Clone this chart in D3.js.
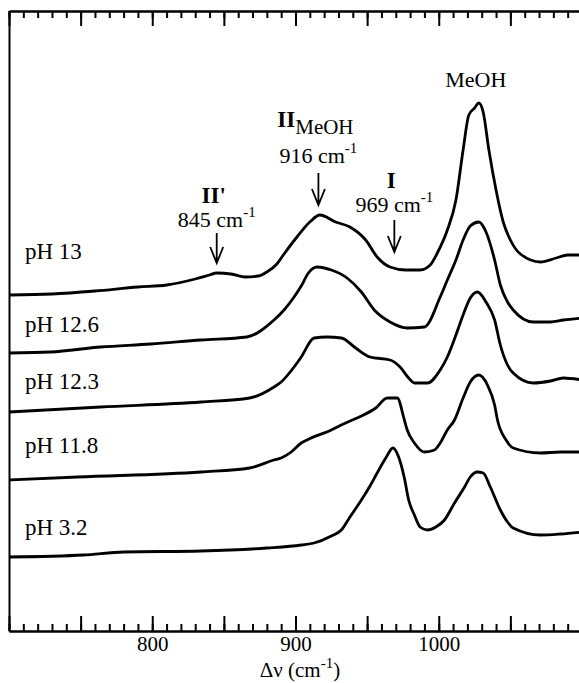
<!DOCTYPE html>
<html>
<head>
<meta charset="utf-8">
<script src="https://d3js.org/d3.v7.min.js"></script>
<style>
	body { margin: 0; background: #fff; }
	text { font-family: "Liberation Serif", "Times New Roman", serif; fill: #000; }
</style>
</head>
<body>
<script>
	// stacked Raman spectra: [wavenumber (cm-1), intensity (a.u., offset included)]
	var traceLabels = ["pH 13", "pH 12.6", "pH 12.3", "pH 11.8", "pH 3.2"];

	var pH13 = [[700,168],[730,168.5],[760,170],[790,172],[810,173],[830,176],[840,178],[845,179],[855,178.5],[865,177],[874,177.5],[880,179.5],[887,183.5],[892,188.5],[901,197],[910,204.5],[917,208],[928,204.5],[938,202],[949,195.5],[957,187],[966,182],[977,180.5],[987,180.5],[994,183],[999,189],[1006,200.5],[1012,215.5],[1017,240.5],[1021,258],[1025,261.5],[1028,264],[1031,259.5],[1035,240.5],[1040,220.5],[1045,204.5],[1050,195.5],[1057,188.5],[1071,184.5],[1082,186.5],[1090,188],[1100,188]];
	var pH126 = [[700,139],[729,139.5],[764,142],[799,143.5],[834,145.5],[866,147],[885,155.5],[892,160.5],[899,167],[904,172.5],[909,179],[915,182],[925,180.5],[936,176.5],[946,169.5],[955,160.5],[966,154.5],[978,151.5],[990,152],[1001,167],[1006,175.5],[1012,185.5],[1017,195.5],[1022,202.5],[1028,204.5],[1033,199.5],[1039,185.5],[1043,173],[1048,164.5],[1052,160.5],[1066,154.5],[1078,154.5],[1087,155.5],[1100,156.5]];
	var pH123 = [[700,109.5],[764,112],[834,114.5],[868,116.5],[885,122],[890,124.5],[899,132],[904,137],[913,146.5],[922,147],[932,146.5],[942,141.5],[952,137],[966,135.5],[973,132],[979,126.5],[983,124],[992,124],[1001,130.5],[1006,137],[1012,148],[1017,158],[1022,166.5],[1027,169.5],[1033,164.5],[1039,155.5],[1043,143],[1048,133],[1052,129],[1066,124],[1078,125],[1087,126.5],[1100,125.5]];
	var pH118 = [[700,75.5],[748,77],[834,79.5],[868,81.5],[885,85.5],[890,86.5],[897,89.5],[904,94],[908,95.5],[925,100.5],[935,104],[946,107.5],[956,111.5],[964,116.5],[971,116.5],[976,105.5],[978,100.5],[983,94],[990,89.5],[997,90.5],[1001,94],[1006,100.5],[1011,105.5],[1017,116.5],[1022,124.5],[1028,128],[1034,123],[1039,113],[1041,105.5],[1047,95.5],[1052,91.5],[1071,89],[1085,89.5],[1100,89.5]];
	var pH32 = [[700,37],[752,38],[780,39.5],[834,40],[880,41.5],[904,43],[913,44],[925,47.5],[932,50.5],[938,57],[946,65.5],[952,72.5],[957,79],[963,86.5],[968,91.5],[972,87],[976,76.5],[979,65.5],[983,58],[987,52],[992,50.5],[998,52],[1004,55.5],[1011,64],[1018,72],[1022,77],[1027,79.5],[1031,79],[1036,72],[1043,60.5],[1048,54.5],[1052,51.5],[1071,48],[1085,48.5],[1100,49.5]];

	var traces = [pH13, pH126, pH123, pH118, pH32];

	// band assignments
	var bandCm = [845, 916, 969];
	var bandName = ["II'", "II", "I"];
	var bandSub = ["", "MeOH", ""];

	var xTickLabels = [800, 900, 1000];

	var w = 579, h = 683;
	var mL = 9, mR = 582, mT = 11, mB = 631;

	var x = d3.scaleLinear().domain([700, 1100]).range([mL, mR]);
	var y = d3.scaleLinear().domain([0, 310]).range([mB, mT]);

	var svg = d3.select("body").append("svg").attr("width", w).attr("height", h);

	// frame + ticks
	var minorTop = d3.axisTop(x).tickValues(d3.range(700, 1101, 10)).tickSize(-7).tickSizeOuter(0).tickFormat("");
	var majorTop = d3.axisTop(x).tickValues(d3.range(700, 1101, 50)).tickSize(-15).tickSizeOuter(0).tickFormat("");
	var minorBot = d3.axisBottom(x).tickValues(d3.range(700, 1101, 10)).tickSize(-7).tickSizeOuter(0).tickFormat("");
	var majorBot = d3.axisBottom(x).tickValues(d3.range(700, 1101, 50)).tickSize(-15).tickSizeOuter(0).tickPadding(5)
		.tickFormat(function(d){ return xTickLabels.indexOf(d) >= 0 ? d : ""; });
	var yAxis = d3.axisLeft(y).tickValues([]).tickSizeOuter(0);

	svg.append("g").attr("transform", "translate(0," + mT + ")").call(minorTop);
	svg.append("g").attr("transform", "translate(0," + mT + ")").call(majorTop);
	svg.append("g").attr("transform", "translate(0," + mB + ")").call(minorBot);
	var xa = svg.append("g").attr("transform", "translate(0," + mB + ")").call(majorBot);
	svg.append("g").attr("transform", "translate(" + mL + ",0)").call(yAxis);

	svg.selectAll(".domain, .tick line").attr("stroke", "#000").attr("stroke-width", 2);
	xa.selectAll("text").attr("font-size", 21).attr("font-family", "Liberation Serif").attr("fill", "#000");

	var title = svg.append("text").attr("x", 300).attr("y", 677).attr("text-anchor", "middle").attr("font-size", 21);
	title.append("tspan").text("\u0394\u03bd (cm");
	title.append("tspan").attr("font-size", 15).attr("dy", -9).text("-1");
	title.append("tspan").attr("dy", 9).text(")");

	// spectra
	var line = d3.line().x(function(d){ return x(d[0]); }).y(function(d){ return y(d[1]); }).curve(d3.curveMonotoneX);
	svg.selectAll(".trace").data(traces).enter().append("path")
		.attr("class", "trace")
		.attr("fill", "none").attr("stroke", "#000").attr("stroke-width", 2.8)
		.attr("stroke-linejoin", "round")
		.attr("d", line);

	// pH labels
	var labelLevel = [186, 149.5, 121, 89, 48];
	svg.selectAll(".phl").data(traceLabels).enter().append("text")
		.attr("class", "phl")
		.attr("x", 25).attr("y", function(d, i){ return y(labelLevel[i]); })
		.attr("font-size", 23).text(function(d){ return d; });

	// arrows and band labels
	var arrowTop = [199, 229, 205.5], arrowTip = [184, 213, 189.5];
	var wnLevel = [202, 234, 209.5], nameLevel = [214, 252, 221.5];
	bandCm.forEach(function(c, i){
		var ax = x(c), y0 = y(arrowTop[i]), y1 = y(arrowTip[i]);
		svg.append("path")
			.attr("d", "M" + ax + "," + y0 + "L" + ax + "," + y1 + "M" + (ax - 6.5) + "," + (y1 - 16) + "L" + ax + "," + y1 + "L" + (ax + 6.5) + "," + (y1 - 16))
			.attr("fill", "none").attr("stroke", "#000").attr("stroke-width", 1.8);

		var t = svg.append("text").attr("x", ax).attr("y", y(wnLevel[i])).attr("text-anchor", "middle").attr("font-size", 22);
		t.append("tspan").text(c + " cm");
		t.append("tspan").attr("font-size", 15).attr("dy", -10).text("-1");

		var n = svg.append("text").attr("x", ax - 3).attr("y", y(nameLevel[i])).attr("text-anchor", "middle").attr("font-size", 23);
		n.append("tspan").attr("font-weight", "bold").text(bandName[i]);
		if (bandSub[i]) n.append("tspan").attr("font-size", 21).attr("dy", 7).text(bandSub[i]);
	});

	svg.append("text").attr("x", x(1028) - 3).attr("y", y(272)).attr("text-anchor", "middle").attr("font-size", 22).text("MeOH");
</script>
</body>
</html>
